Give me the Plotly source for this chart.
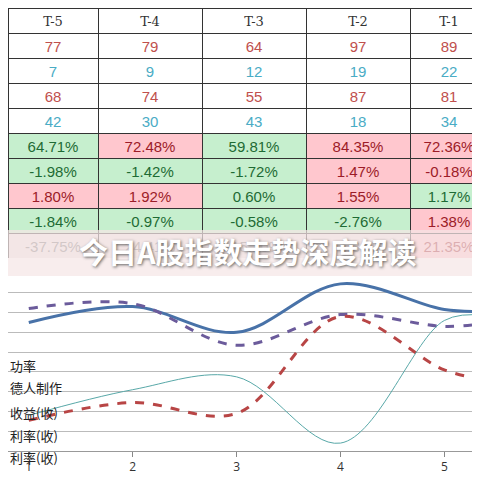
import plotly.graph_objects as go

headers = ["T-5", "T-4", "T-3", "T-2", "T-1"]
row_a = [77, 79, 64, 97, 89]
row_b = [7, 9, 12, 19, 22]
row_c = [68, 74, 55, 87, 81]
row_d = [42, 30, 43, 18, 34]
row_e = ["64.71%", "72.48%", "59.81%", "84.35%", "72.36%"]
row_f = ["-1.98%", "-1.42%", "-1.72%", "1.47%", "-0.18%"]
row_g = ["1.80%", "1.92%", "0.60%", "1.55%", "1.17%"]
row_h = ["-1.84%", "-0.97%", "-0.58%", "-2.76%", "1.38%"]
row_i = ["-37.75%", "24.41%", "-15.20%", "-4.31%", "21.35%"]

x_days = [1, 2, 3, 4, 5, 5.4]
s_blue = [6.5, 7.3, 6.0, 8.45, 7.15, 7.05]
s_purple = [7.2, 7.45, 5.35, 6.9, 6.3, 6.45]
s_red = [1.55, 2.45, 1.9, 6.8, 4.1, 3.6]
s_teal = [1.8, 3.1, 3.75, 0.4, 6.6, 6.85]
legend_labels = ["功率", "德人制作", "收益(收)", "利率(收)", "利率(收)"]

G, P, W = "#c6efce", "#ffc7ce", "#ffffff"
GT, RT = "#1e6b34", "#9c1c28"
rows = [row_a, row_b, row_c, row_d, row_e, row_f, row_g, row_h, row_i]
fills = [[W]*5, [W]*5, [W]*5, [W]*5,
         [G, P, G, P, P], [G, G, G, P, P], [P, P, G, P, G],
         [G, G, G, G, P], ["#ece6e6", "#ece6e6", "#ece6e6", "#ece6e6", P]]
fcols = [["#c0504d"]*5, ["#4aacc5"]*5, ["#c0504d"]*5, ["#4aacc5"]*5,
         [GT, RT, GT, RT, RT], [GT, GT, GT, RT, RT], [RT, RT, GT, RT, GT],
         [GT]*4 + [RT], ["#777"]*4 + [RT]]
cols = [[str(r[c]) for r in rows] for c in range(5)]
fill_cols = [[fills[r][c] for r in range(9)] for c in range(5)]
font_cols = [[fcols[r][c] for r in range(9)] for c in range(5)]

fig = go.Figure()
fig.add_trace(go.Table(
    domain=dict(x=[0, 1], y=[1 - 250/480, 1]),
    columnwidth=[90, 104, 104, 104, 78],
    header=dict(values=headers, height=25, fill_color="white",
                line_color="#333", font=dict(family="DejaVu Serif", size=13, color="#333")),
    cells=dict(values=cols, height=25, fill_color=fill_cols, line_color="#333",
               font=dict(family="Liberation Sans", size=15, color=font_cols))))

specs = [(s_blue, "#4872a8", "solid", 3), (s_purple, "#6b5b9b", "dash", 3),
         (s_red, "#b84545", "dash", 3), (s_teal, "#58a8a8", "solid", 1)]
for ys, c, d, w in specs:
    fig.add_trace(go.Scatter(x=x_days, y=ys, mode="lines",
                             line=dict(color=c, dash=d, width=w, shape="spline"), showlegend=False))

fig.update_layout(
    width=480, height=480, margin=dict(l=0, r=0, t=0, b=0),
    paper_bgcolor="white", plot_bgcolor="white",
    xaxis=dict(range=[0.80, 5.42], tickvals=[1, 2, 3, 4, 5], ticks="outside", ticklen=5,
               tickcolor="#888", showgrid=False, zeroline=False, showline=True, linecolor="#999",
               tickfont=dict(size=12, color="#333"), domain=[0, 1]),
    yaxis=dict(range=[0, 9], dtick=1, showgrid=True, gridcolor="#bbb", showticklabels=False,
               zeroline=False, domain=[37/480, 1 - 265/480]),
)
for i, t in enumerate(legend_labels):
    fig.add_annotation(xref="paper", yref="paper", x=0, xanchor="left",
                       y=1 - [369, 391, 416, 439, 461][i]/480, text=t, showarrow=False,
                       font=dict(family="Noto Sans CJK SC", size=13, color="#222"))
fig.add_shape(type="rect", xref="paper", yref="paper", x0=0, x1=1, y0=1-268/480, y1=1-222/480,
              fillcolor="rgba(245,230,230,0.72)", line_width=0, layer="above")
fig.add_annotation(xref="paper", yref="paper", x=0.5, y=1-243/480, text="<b>今日A股指数走势深度解读</b>",
                   showarrow=False, font=dict(family="Noto Sans CJK SC", size=29, color="white",
                                              shadow="1px 1px 3px #666"))
fig.add_shape(type="line", xref="paper", yref="paper", x0=0, x1=1, y0=2/480, y1=2/480,
              line=dict(color="#ccc", width=3))
fig.write_html("out.html")
